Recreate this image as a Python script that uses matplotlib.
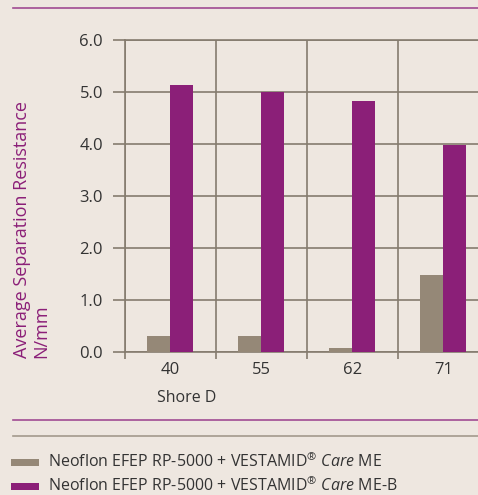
import matplotlib
matplotlib.use("Agg")
import matplotlib.pyplot as plt
from matplotlib.patches import Rectangle
from matplotlib.lines import Line2D

categories = ["40", "55", "62", "71"]
series_me = [0.30, 0.30, 0.07, 1.48]
series_meb = [5.14, 5.00, 4.83, 3.98]
yticks = [0.0, 1.0, 2.0, 3.0, 4.0, 5.0, 6.0]
legend_labels = [
    "Neoflon EFEP RP-5000 + VESTAMID$^{®}$ $\\mathit{Care}$ ME",
    "Neoflon EFEP RP-5000 + VESTAMID$^{®}$ $\\mathit{Care}$ ME-B",
]

BG = "#EEE7E0"
GRAY = "#958877"
PURPLE = "#8B1F78"
GRID = "#857B6E"
TXT = "#333333"

plt.rcParams["font.family"] = ["Open Sans", "DejaVu Sans"]
plt.rcParams["mathtext.fontset"] = "custom"
plt.rcParams["mathtext.rm"] = "Open Sans"
plt.rcParams["mathtext.it"] = "Open Sans:italic"
plt.rcParams["mathtext.default"] = "regular"

fig = plt.figure(figsize=(4.78, 4.95), dpi=100, facecolor=BG)
W, H = 478, 495
left, right, top, bottom = 124.7, 488.7, 40, 352
ax = fig.add_axes([left / W, 1 - bottom / H, (right - left) / W, (bottom - top) / H])
ax.set_facecolor(BG)

x = list(range(len(categories)))
bw = 0.25
ax.bar([i - bw / 2 for i in x], series_me, width=bw, color=GRAY, zorder=3)
ax.bar([i + bw / 2 for i in x], series_meb, width=bw, color=PURPLE, zorder=3)

ax.set_xlim(-0.5, 3.5)
ax.set_ylim(0, 6)
ax.set_yticks(yticks)
ax.set_yticklabels([f"{v:.1f}" for v in yticks], color=TXT, fontsize=12)
ax.set_xticks([-0.5, 0.5, 1.5, 2.5, 3.5])
ax.set_xticklabels([])
ax.set_xticks(x, minor=True)
ax.set_xticklabels(categories, minor=True, color=TXT, fontsize=12)
ax.tick_params(axis="y", length=8.6, width=1.2, color=GRID, pad=7)
ax.tick_params(axis="x", which="major", length=5, width=1.2, color=GRID)
ax.tick_params(axis="x", which="minor", length=0, pad=7)
ax.grid(True, which="major", color=GRID, linewidth=1.2, zorder=1)
ax.set_axisbelow(True)
for s in ["left", "bottom", "top"]:
    ax.spines[s].set_color(GRID)
    ax.spines[s].set_linewidth(1.2)
ax.spines["right"].set_visible(False)

fig.text(31.5 / W, 1 - 358 / H, "Average Separation Resistance\nN/mm", rotation=90,
         color=PURPLE, fontsize=13, ha="center", va="bottom", multialignment="left",
         linespacing=1.05)
fig.text(187 / W, 1 - 398 / H, "Shore D", color=TXT, fontsize=11.5, ha="center", va="center")

fig.add_artist(Line2D([13 / W, 1], [1 - 7.5 / H] * 2, color="#A04C92", lw=1.2))
fig.add_artist(Line2D([13 / W, 1], [1 - 420 / H] * 2, color="#A04C92", lw=1.2))
fig.add_artist(Line2D([13 / W, 1], [1 - 436 / H] * 2, color="#A39A8C", lw=1.2))

# legend drawn manually
rows_y = [462, 486]
for label, color, yc in zip(legend_labels, [GRAY, PURPLE], rows_y):
    fig.add_artist(Rectangle((11 / W, 1 - (yc + 3.5) / H), 28 / W, 7 / H,
                             transform=fig.transFigure, color=color, lw=0))
    fig.text(48 / W, 1 - (yc + 5) / H, label, color=TXT, fontsize=11.5,
             ha="left", va="baseline")

fig.savefig("out.png", dpi=100, facecolor=BG)
